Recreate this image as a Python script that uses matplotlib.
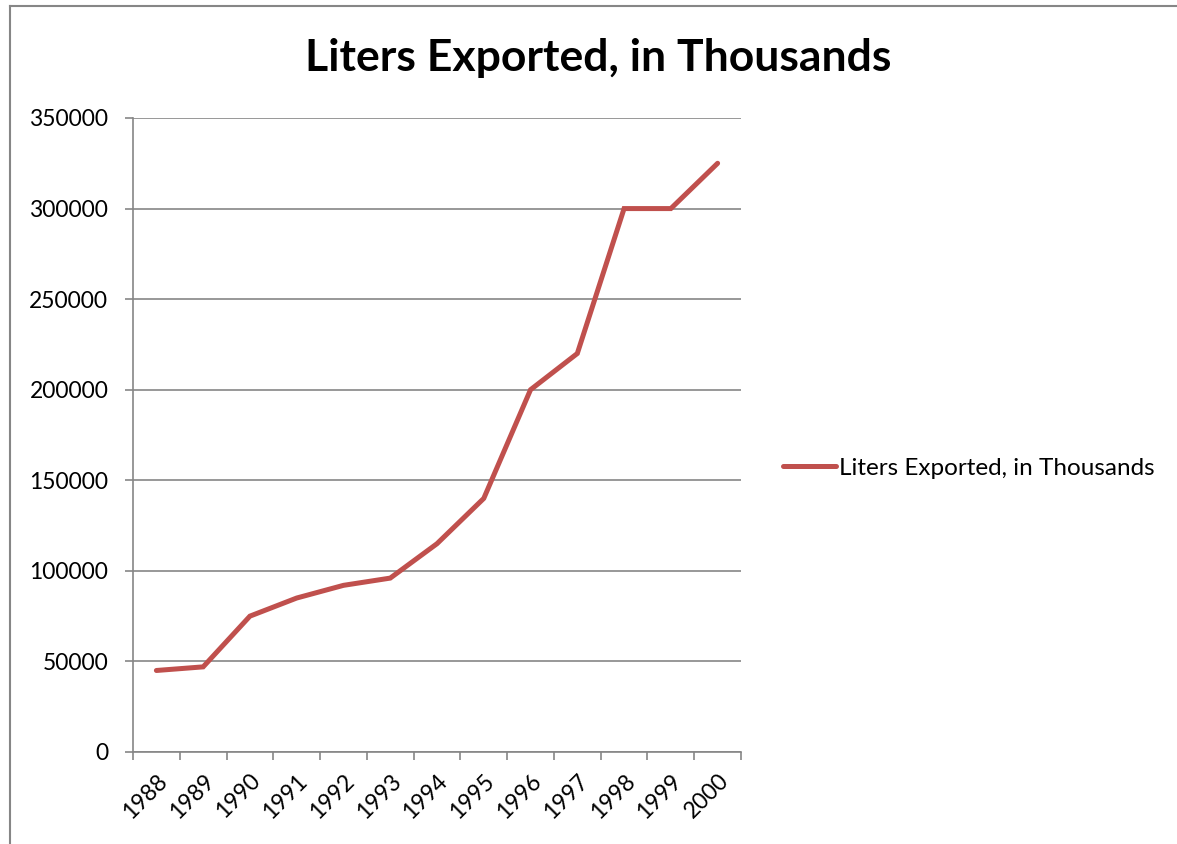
import matplotlib.pyplot as plt
from matplotlib.lines import Line2D

years = ['1988', '1989', '1990', '1991', '1992', '1993', '1994',
         '1995', '1996', '1997', '1998', '1999', '2000']
liters = [45000, 47000, 75000, 85000, 92000, 96000, 115000,
          140000, 200000, 220000, 300000, 300000, 325000]
series_name = 'Liters Exported, in Thousands'
y_ticks = [0, 50000, 100000, 150000, 200000, 250000, 300000, 350000]

plt.rcParams['font.family'] = ['Lato', 'DejaVu Sans']
grey = '#868686'

fig = plt.figure(figsize=(11.77, 8.44), dpi=100)
ax = fig.add_axes([133 / 1177, 92 / 844, (741 - 133) / 1177, (752 - 118) / 844])

x = list(range(len(years)))
line, = ax.plot(x, liters, color='#C0504D', lw=3.6, solid_capstyle='round',
                solid_joinstyle='miter', label=series_name)

ax.set_xlim(-0.5, len(years) - 0.5)
ax.set_ylim(0, 350000)
ax.set_yticks(y_ticks)
ax.set_yticklabels([str(v) for v in y_ticks], fontsize=16.5)
ax.yaxis.grid(True, color=grey, lw=1.2)
ax.set_axisbelow(True)

# category labels centred, tick marks on the boundaries (Excel style)
ax.set_xticks(x)
ax.set_xticklabels(years, rotation=45, ha='right', rotation_mode='anchor', fontsize=16.5)
ax.tick_params(axis='x', which='major', length=0, pad=13)
ax.set_xticks([i - 0.5 for i in range(len(years) + 1)], minor=True)
ax.tick_params(axis='x', which='minor', length=5.8, color=grey, width=1.2)
ax.tick_params(axis='y', length=5.8, color=grey, width=1.2, pad=12)

for s in ['top', 'right']:
    ax.spines[s].set_visible(False)
for s in ['left', 'bottom']:
    ax.spines[s].set_color(grey)
    ax.spines[s].set_linewidth(1.2)

fig.text(598 / 1177, 1 - 58 / 844, series_name, fontsize=32, fontweight='bold',
         ha='center', va='center')

fig.legend(handles=[line], loc='center left', bbox_to_anchor=(761 / 1177, 1 - 468 / 844),
           frameon=False, fontsize=17.5, handlelength=2.2, handletextpad=0.1)

# chart area border
fig.add_artist(Line2D([10 / 1177, 10 / 1177], [0, 1 - 6 / 844], color=grey, lw=1.5))
fig.add_artist(Line2D([10 / 1177, 1], [1 - 6 / 844, 1 - 6 / 844], color=grey, lw=1.5))

fig.savefig('out.png', dpi=100)
